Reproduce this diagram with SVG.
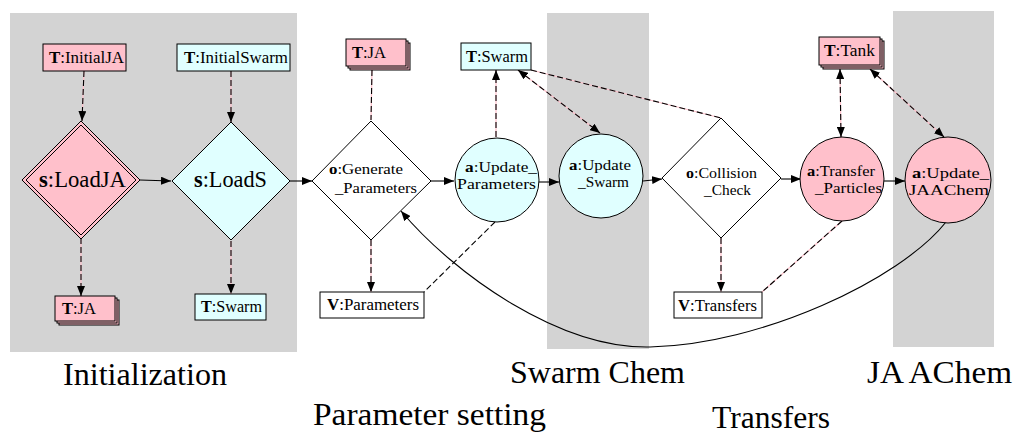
<svg xmlns="http://www.w3.org/2000/svg" width="1015" height="435" viewBox="0 0 1015 435">
<style>
.bg{fill:#d3d3d3}
.pk{fill:#ffc0cb;stroke:#000;stroke-width:1}
.cy{fill:#e0ffff;stroke:#000;stroke-width:1}
.wh{fill:#fff;stroke:#000;stroke-width:1}
text{font-family:'Liberation Serif','DejaVu Serif',serif;fill:#000}
.t{font-size:16px}
.c{font-size:15px}
.big{font-size:23px}
.lab{font-size:32px}
.b{font-weight:bold}
.sol{fill:none;stroke:#000;stroke-width:1.1}
.pl{fill:none;stroke:#ffc0cb;stroke-width:1.2}
.ds{fill:none;stroke:#000;stroke-width:1.1;stroke-dasharray:6 3}
</style>
<defs>
<marker id="ah" viewBox="0 0 10 8" refX="10" refY="4" markerWidth="10" markerHeight="8" markerUnits="userSpaceOnUse" orient="auto-start-reverse">
<path d="M0,0 L10,4 L0,8 Z" fill="#000"/>
</marker>
</defs>
<rect class="bg" x="10" y="13" width="287" height="339"/>
<rect class="bg" x="547" y="13" width="102" height="336"/>
<rect class="bg" x="893" y="11" width="101" height="336"/>
<text class="lab" x="63" y="385" textLength="164" lengthAdjust="spacingAndGlyphs">Initialization</text>
<text class="lab" x="313" y="425" textLength="233" lengthAdjust="spacingAndGlyphs">Parameter setting</text>
<text class="lab" x="510" y="383" textLength="175" lengthAdjust="spacingAndGlyphs">Swarm Chem</text>
<text class="lab" x="712" y="428" textLength="118" lengthAdjust="spacingAndGlyphs">Transfers</text>
<text class="lab" x="867" y="383" textLength="145" lengthAdjust="spacingAndGlyphs">JA AChem</text>
<g id="connectors">
<g class="pl">
<path d="M84,71 L82,121"/>
<path d="M231,71 L231,122"/>
<path d="M81,238 L81,296"/>
<path d="M231,241 L231,294"/>
<path d="M372,70 L371,120"/>
<path d="M371,240 L371,292"/>
<path d="M496,137 L496,70"/>
<path d="M518,70 L600,133"/>
<path d="M531,70 L721,118"/>
<path d="M721,238 L721,292"/>
<path d="M840,69 L841,137"/>
<path d="M870,69 L944,137"/>
<path d="M842,221 L762,292"/>
</g>
<path class="ds" d="M84,71 L82,121" marker-end="url(#ah)"/>
<path class="ds" d="M231,71 L231,122" marker-end="url(#ah)"/>
<path class="ds" d="M81,238 L81,296" marker-end="url(#ah)"/>
<path class="ds" d="M231,241 L231,294" marker-end="url(#ah)"/>
<path class="ds" d="M372,70 L371,120"/>
<path class="ds" d="M371,240 L371,292" marker-end="url(#ah)"/>
<path class="ds" d="M496,137 L496,70" marker-end="url(#ah)"/>
<path class="ds" d="M518,70 L600,133" marker-start="url(#ah)" marker-end="url(#ah)"/>
<path class="ds" d="M531,70 L721,118"/>
<path class="ds" d="M721,238 L721,292" marker-end="url(#ah)"/>
<path class="ds" d="M840,69 L841,137" marker-start="url(#ah)" marker-end="url(#ah)"/>
<path class="ds" d="M870,69 L944,137" marker-start="url(#ah)" marker-end="url(#ah)"/>
<path class="ds" d="M842,221 L762,292"/>
<path class="ds" d="M495,222 L424,292"/>
<path class="sol" d="M140,180 L171,181" marker-end="url(#ah)"/>
<path class="sol" d="M290,181 L312,181" marker-end="url(#ah)"/>
<path class="sol" d="M431,181 L454,181" marker-end="url(#ah)"/>
<path class="sol" d="M539,182 L559,182" marker-end="url(#ah)"/>
<path class="sol" d="M643,181 L662,179" marker-end="url(#ah)"/>
<path class="sol" d="M781,179 L801,179" marker-end="url(#ah)"/>
<path class="sol" d="M884,181 L905,181" marker-end="url(#ah)"/>
<path class="sol" d="M946,222 C900,280 760,345 650,347 C560,349 455,275 401,211" marker-end="url(#ah)"/>
</g>
<g id="T_InitialJA"><rect class="pk" x="43" y="44" width="83" height="27"/><text class="t" x="49" y="63" textLength="75" lengthAdjust="spacingAndGlyphs"><tspan class="b">T</tspan>:InitialJA</text></g>
<g id="T_InitialSwarm"><rect class="cy" x="177" y="44" width="113" height="27"/><text class="t" x="184" y="63" textLength="104" lengthAdjust="spacingAndGlyphs"><tspan class="b">T</tspan>:InitialSwarm</text></g>
<g id="s_LoadJA"><path class="pk" d="M81,121 L140,180 L81,239 L22,180 Z"/><path fill="none" stroke="#000" d="M81,125 L136,180 L81,235 L26,180 Z"/><text class="big" x="39" y="187" textLength="87" lengthAdjust="spacingAndGlyphs"><tspan class="b">s</tspan>:LoadJA</text></g>
<g id="s_LoadS"><path class="cy" d="M231,122 L290,181 L231,240 L172,181 Z"/><text class="big" x="194" y="187" textLength="73" lengthAdjust="spacingAndGlyphs"><tspan class="b">s</tspan>:LoadS</text></g>
<g id="T_JA_bottom"><rect class="pk" x="59" y="300" width="60" height="25"/><rect class="pk" x="57" y="298" width="60" height="25"/><rect class="pk" x="55" y="296" width="60" height="25"/><text class="t" x="62" y="314" textLength="34" lengthAdjust="spacingAndGlyphs"><tspan class="b">T</tspan>:JA</text></g>
<g id="T_Swarm_bottom"><rect class="cy" x="195" y="294" width="71" height="26"/><text class="t" x="201" y="312" textLength="61" lengthAdjust="spacingAndGlyphs"><tspan class="b">T</tspan>:Swarm</text></g>
<g id="T_JA_top"><rect class="pk" x="350" y="43" width="60" height="27"/><rect class="pk" x="348" y="41" width="60" height="27"/><rect class="pk" x="346" y="39" width="60" height="27"/><text class="t" x="352" y="58" textLength="34" lengthAdjust="spacingAndGlyphs"><tspan class="b">T</tspan>:JA</text></g>
<g id="T_Swarm_top"><rect class="cy" x="461" y="43" width="70" height="27"/><text class="t" x="466" y="62" textLength="62" lengthAdjust="spacingAndGlyphs"><tspan class="b">T</tspan>:Swarm</text></g>
<g id="o_GenerateParameters"><path class="wh" d="M371,121 L431,181 L371,240 L312,181 Z"/><text class="c" x="329" y="174" textLength="74" lengthAdjust="spacingAndGlyphs"><tspan class="b">o</tspan>:Generate</text><text class="c" x="335" y="193" textLength="82" lengthAdjust="spacingAndGlyphs">_Parameters</text></g>
<g id="a_UpdateParameters"><circle class="cy" cx="497" cy="180" r="42"/><text class="c" x="465" y="172" textLength="72" lengthAdjust="spacingAndGlyphs"><tspan class="b">a</tspan>:Update_</text><text class="c" x="457" y="189" textLength="79" lengthAdjust="spacingAndGlyphs">Parameters</text></g>
<g id="V_Parameters"><rect class="wh" x="320" y="292" width="104" height="26"/><text class="t" x="327" y="310" textLength="92" lengthAdjust="spacingAndGlyphs"><tspan class="b">V</tspan>:Parameters</text></g>
<g id="a_UpdateSwarm"><circle class="cy" cx="601" cy="176" r="42"/><text class="c" x="569" y="170" textLength="62" lengthAdjust="spacingAndGlyphs"><tspan class="b">a</tspan>:Update</text><text class="c" x="578" y="187" textLength="51" lengthAdjust="spacingAndGlyphs">_Swarm</text></g>
<g id="o_CollisionCheck"><path class="wh" d="M721,118 L781,178 L721,238 L662,178 Z"/><text class="c" x="686" y="178" textLength="71" lengthAdjust="spacingAndGlyphs"><tspan class="b">o</tspan>:Collision</text><text class="c" x="704" y="195" textLength="47" lengthAdjust="spacingAndGlyphs">_Check</text></g>
<g id="V_Transfers"><rect class="wh" x="674" y="292" width="88" height="26"/><text class="t" x="678" y="311" textLength="79" lengthAdjust="spacingAndGlyphs"><tspan class="b">V</tspan>:Transfers</text></g>
<g id="T_Tank"><rect class="pk" x="823" y="41" width="61" height="28"/><rect class="pk" x="821" y="39" width="61" height="28"/><rect class="pk" x="819" y="37" width="61" height="28"/><text class="t" x="824" y="56" textLength="51" lengthAdjust="spacingAndGlyphs"><tspan class="b">T</tspan>:Tank</text></g>
<g id="a_TransferParticles"><circle class="pk" cx="842" cy="179" r="42"/><text class="c" x="807" y="176" textLength="68" lengthAdjust="spacingAndGlyphs"><tspan class="b">a</tspan>:Transfer</text><text class="c" x="815" y="193" textLength="67" lengthAdjust="spacingAndGlyphs">_Particles</text></g>
<g id="a_UpdateJAAChem"><circle class="pk" cx="948" cy="180" r="43"/><text class="c" x="912" y="178" textLength="77" lengthAdjust="spacingAndGlyphs"><tspan class="b">a</tspan>:Update_</text><text class="c" x="909" y="195" textLength="80" lengthAdjust="spacingAndGlyphs">JAAChem</text></g>
</svg>
